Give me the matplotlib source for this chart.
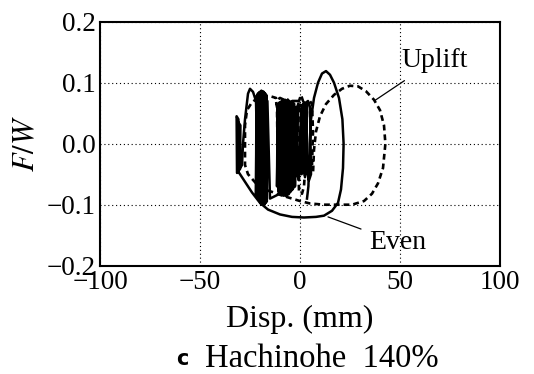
import matplotlib
matplotlib.use('Agg')
import matplotlib.pyplot as plt

# Even (solid), traced roughly in path order
even_x = [0, 1, 2, 3, 3.5, 2.5, 1.5, 2, 4, 5, 5.5, 4.5, 3, 3.5, -1, -1.5, -0.5, 0.5, 1, 0.8, 2.5, 2.8,
          # middle dense band
          -2, -2.5, -3, -3.5, -4, -4.5, -5, -5.5, -6, -6.5, -7, -7.5, -8, -8.5, -9, -9.5, -10, -10.5,
          -11, -11.5, -11.2, -10.7, -10.2, -9.7, -9.2, -8.7, -8.2, -7.7, -7.2, -6.7, -6.2, -5.7, -5.2,
          -4.7, -4.2, -3.7, -3.2, -2.7,
          # left dense band
          -15, -16.3, -16.6, -16.9, -17.2, -17.5, -17.8, -18.1, -18.4, -18.7, -19.0, -19.3, -19.6,
          -19.9, -20.2, -20.5, -20.8, -21.1, -21.4, -21.7, -22.0, -21.8, -21.5, -21.2, -20.9, -20.6,
          -20.3, -20.0, -19.7, -19.4, -19.1, -18.8, -18.5, -18.2, -17.9, -17.6, -17.3, -17.0, -16.7,
          -18, -21,
          # left loop
          -22, -23.5, -25, -26, -27.5, -28.5, -29, -31.5, -31.7, -30.8, -30.5, -30, -29.8, -30.8, -31,
          # big loop
          -28, -24, -20, -16, -10, -4, 2, 8, 12, 16, 19, 20.5, 21.5, 21.8, 21.2, 19.5, 17, 15, 13,
          11, 9, 7, 5.5, 4.8, 4.5, 4.2, 3.5]
even_y = [-0.02, 0.06, 0.068, 0.06, -0.04, -0.055, -0.03, 0.065, 0.07, 0.06, -0.05, -0.06, -0.03, 0.06, 0.065, -0.05, -0.06, 0.05, 0.06, -0.05, -0.04, 0.065,
          0.06, -0.07, 0.066, -0.074, 0.07, -0.078, 0.068, -0.08, 0.072, -0.082, 0.07, -0.084, 0.068, -0.082, 0.07, -0.08, 0.066,
          -0.078, 0.06, -0.07, 0.064, -0.078, 0.068, -0.08, 0.07, -0.082, 0.072, -0.085, 0.07, -0.086, 0.072, -0.082, 0.07,
          -0.078, 0.068, -0.075, 0.064, -0.07,
          -0.09, 0.07, -0.095, 0.08, -0.097, 0.083, -0.1, 0.085, -0.098, 0.086, -0.097, 0.087, -0.095,
          0.085, -0.093, 0.084, -0.09, 0.082, -0.088, 0.078, -0.084, 0.076, -0.088, 0.08, -0.09, 0.082,
          -0.094, 0.085, -0.098, 0.086, -0.1, 0.085, -0.1, 0.084, -0.098, 0.082, -0.097, 0.078, -0.094,
          0.07, -0.08,
          0.07, 0.085, 0.09, 0.082, 0.04, 0.0, -0.035, -0.048, 0.045, 0.04, -0.04, -0.042, 0.03, 0.035, -0.045,
          -0.06, -0.08, -0.097, -0.108, -0.116, -0.12, -0.121, -0.12, -0.118, -0.11, -0.097, -0.075, -0.04, 0.0, 0.04, 0.075, 0.1, 0.113, 0.119,
          0.115, 0.1, 0.075, 0.04, 0.0, -0.04, -0.07, -0.09]

# Uplift (dashed)
uplift_x = [6, 6.5, 6, 4.5, 3.5, 3, 2, 1, -0.5, -1, -0.5, 0.5, 1.5,
            -4, -5, -7, -7.5, -9, -10, -11, -11.5, -12, -10, -8, -8.5, -6, -6, -4, -4.5,
            -12, -15, -18, -21, -24, -26.5, -27.5, -27.5, -26, -22, -18, -13, -9,
            -4, 0, 5, 12, 20, 26, 32, 36, 39, 41.5, 42.7, 42, 40, 37, 33, 29, 25, 21, 17, 13, 10, 8, 7, 6.5]
uplift_y = [-0.035, 0.02, 0.065, 0.072, 0.06, -0.02, -0.07, -0.082, -0.08, 0.0, 0.07, 0.08, 0.07,
            0.07, -0.08, -0.085, 0.072, 0.07, -0.082, -0.075, 0.06, 0.07, 0.075, 0.072, -0.085, -0.085, 0.068, 0.06, -0.075,
            0.075, 0.078, 0.078, 0.075, 0.068, 0.055, 0.03, -0.035, -0.05, -0.065, -0.075, -0.08, -0.085,
            -0.09, -0.094, -0.098, -0.1, -0.1, -0.1, -0.094, -0.082, -0.065, -0.04, 0.0, 0.03, 0.055, 0.072, 0.086, 0.094, 0.095, 0.09, 0.08, 0.065, 0.045, 0.02, -0.01, -0.05]

x_ticks = [-100, -50, 0, 50, 100]
y_ticks = [-0.2, -0.1, 0.0, 0.1, 0.2]

plt.rcParams['font.family'] = ['Liberation Serif', 'DejaVu Serif']
plt.rcParams['mathtext.fontset'] = 'stix'

fig = plt.figure(figsize=(5.34, 3.74), dpi=100)
ax = fig.add_axes([0.1873, 0.2896, 0.749, 0.6524])

ax.plot(uplift_x, uplift_y, color='black', lw=1.9, linestyle=(0, (2.2, 1.5)))
ax.plot(even_x, even_y, color='black', lw=1.8)

ax.set_xlim(-100, 100)
ax.set_ylim(-0.2, 0.2)
ax.set_xticks(x_ticks)
ax.set_yticks(y_ticks)
ax.set_xticklabels(['\u2212100', '\u221250', '0', '50', '100'])
ax.set_yticklabels(['\u22120.2', '\u22120.1', '0.0', '0.1', '0.2'])
ax.tick_params(length=0, labelsize=19.5, pad=3)
ax.grid(True, color='black', lw=0.8, linestyle=(0, (1, 2.5)))
for s in ax.spines.values():
    s.set_linewidth(1.5)

ax.annotate('Uplift', xy=(37.5, 0.071), xytext=(50.5, 0.136), fontsize=20,
            ha='left', va='center',
            arrowprops=dict(arrowstyle='-', color='black', lw=0.9, shrinkA=6, shrinkB=0))
ax.annotate('Even', xy=(14, -0.12), xytext=(34.5, -0.162), fontsize=20,
            ha='left', va='center',
            arrowprops=dict(arrowstyle='-', color='black', lw=0.9, shrinkA=4, shrinkB=0))

ax.set_xlabel('Disp. (mm)', fontsize=23, labelpad=7)
ax.set_ylabel('$F/W$', fontsize=22, labelpad=4)

fig.text(0.341, 0.040, 'c', family='DejaVu Sans', fontsize=15, fontweight='bold', ha='center', va='center')
fig.text(0.384, 0.040, 'Hachinohe  140%', fontsize=23.5, ha='left', va='center')

fig.savefig('out.png', dpi=100)
